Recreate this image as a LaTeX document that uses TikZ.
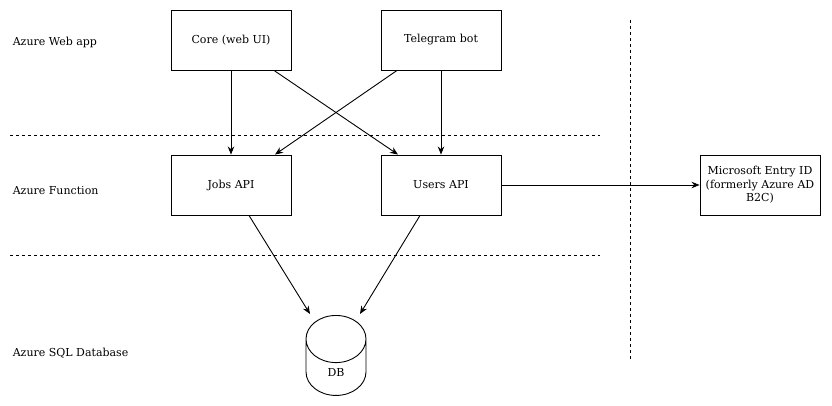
\documentclass[tikz,border=0pt]{standalone}
\usepackage{fontspec}
\setmainfont{DejaVu Serif}
\usetikzlibrary{shapes.geometric,arrows.meta}
\begin{document}
\begin{tikzpicture}
        [x=1pt, y=-1pt, line width=0.9pt, >={Stealth[length=8pt,width=6.5pt]},
        box/.style={rectangle,draw,minimum width=120pt,minimum height=60pt, align=center, font=\fontsize{11}{13.5}\selectfont},
        dbnode/.style={cylinder,draw,shape border rotate=90,aspect=2,minimum width=60pt,minimum height=80pt, font=\fontsize{11}{13.5}\selectfont},
        lane/.style={anchor=west, font=\fontsize{11}{13.5}\selectfont},
        sep/.style={dash pattern=on 3pt off 3pt}]
        \useasboundingbox (0,0) rectangle (832,406);
        \node[lane] (W) at (9,42) {Azure Web app};
        \node[lane] (F) at (9,191) {Azure Function};
        \node[lane] (S) at (9,353) {Azure SQL Database};
        
        \node[box] (C) at (231,40) {Core (web UI)};
        \node[box] (T) at (441,40) {Telegram bot};
        \node[box] (J) at (231,185) {Jobs API};
        \node[box] (U) at (441,185) {Users API};
        \node[box] (M) at (760,185) {Microsoft Entry ID\\(formerly Azure AD\\B2C)};
        \node[dbnode, anchor=north] (D) at (336,315) {DB};
        
        \coordinate (L1a) at (10,135); \coordinate (L1b) at (600,135);
        \coordinate (L2a) at (10,255); \coordinate (L2b) at (600,255);
        \coordinate (V1a) at (630,20); \coordinate (V1b) at (630,360);
        \draw[sep, line width=0.7pt] (L1a) -- (L1b);
        \draw[sep, line width=0.7pt] (L2a) -- (L2b);
        \draw[sep, line width=0.7pt] (V1a) -- (V1b);
        
        \draw[->] (C) -- (J);
        \draw[->] ([xshift=43]C.south) -- ([xshift=-43]U.north);
        \draw[->] ([xshift=-44]T.south) -- ([xshift=44]J.north);
        \draw[->] (T) -- (U);
        \draw[->] ([xshift=18]J.south) -- ([xshift=-26,yshift=1]D.north);
        \draw[->] ([xshift=-21]U.south) -- ([xshift=24,yshift=1]D.north);
        \draw[->] (U) -- (M);
    \end{tikzpicture}
\end{document}
